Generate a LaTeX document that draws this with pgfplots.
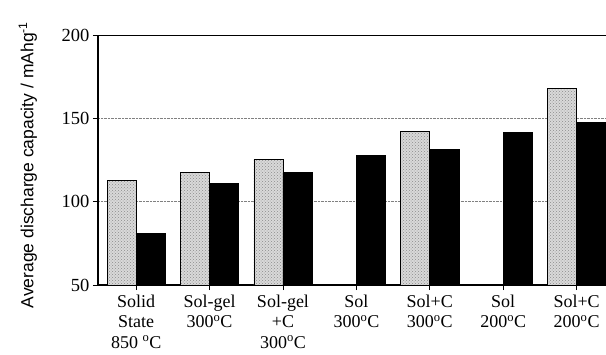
\documentclass[border=0pt]{standalone}
\usepackage{fontspec}
\setmainfont{Liberation Serif}
\newfontfamily\labsans{Liberation Sans}
\usepackage{pgfplots}
\pgfplotsset{compat=1.18}
\usetikzlibrary{patterns}

\begin{document}
\begin{tikzpicture}
\begin{axis}[
  name=ax, at={(0,0)}, anchor=south west,
  scale only axis, width=508pt, height=250pt,
  xmin=-0.52, xmax=6.4, ymin=50, ymax=200,
  axis x line*=bottom, axis y line*=left,
  axis line style={line width=1.1pt, black},
  tick align=outside, major tick length=5pt,
  tick style={line width=0.9pt, black},
  ybar=0pt, bar width=29pt,
  xtick={0,...,6},
  xticklabels={
    {Solid\\State\\850 \textsuperscript{o}C},
    {Sol-gel\\300\textsuperscript{o}C},
    {Sol-gel\\+C\\300\textsuperscript{o}C},
    {Sol\\300\textsuperscript{o}C},
    {Sol+C\\300\textsuperscript{o}C},
    {Sol\\200\textsuperscript{o}C},
    {Sol+C\\200\textsuperscript{o}C}},
  xticklabel style={align=center, font=\fontsize{18}{20.5}\selectfont, yshift=-1pt},
  ytick={50,100,150},
  extra y ticks={200},
  extra y tick style={grid=major, major grid style={solid, black, line width=1pt}},
  ymajorgrids,
  major grid style={densely dotted, black!50, line width=0.8pt},
  yticklabel style={font=\fontsize{18.5}{20}\selectfont},
  /pgf/number format/assume math mode=true,
  ylabel={Average discharge capacity / mAhg\textsuperscript{-1}},
  every axis y label/.style={at={(axis description cs:-0.138,0.48)}, rotate=90, anchor=center,
    font=\labsans\fontsize{17.5}{20}\selectfont},
]
% first-cycle capacity (stippled)
\addplot[draw=black, line width=0.9pt, fill=black!15,
  postaction={pattern=crosshatch dots, pattern color=black!45}]
  coordinates {(0,113) (1,117.6) (2,125.6) (4,142) (6,167.8)};
% averaged capacity (solid black)
\addplot[draw=black, fill=black]
  coordinates {(0,81.2) (1,111.2) (2,117.6) (3,128) (4,131.6) (5,141.6) (6,147.4)};
\end{axis}
\pgfresetboundingbox
\useasboundingbox (-98pt,-69pt) rectangle (508pt,285pt);
\end{tikzpicture}
\end{document}
